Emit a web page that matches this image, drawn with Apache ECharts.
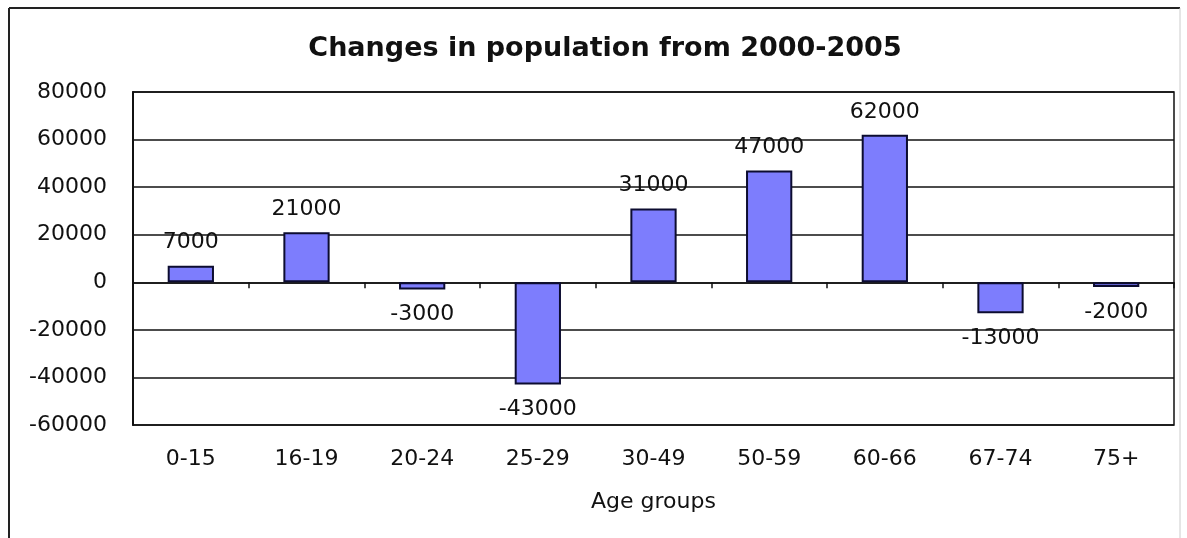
<!DOCTYPE html>
<html>
<head>
<meta charset="utf-8">
<script src="https://cdn.jsdelivr.net/npm/echarts@6/dist/echarts.min.js"></script>
<style>
  html, body { margin: 0; padding: 0; background: #fff; }
  #chart { width: 1187px; height: 538px; }
</style>
</head>
<body>
<div id="chart"></div>
<script>
// age groups and population change
const ageGroups = ['0-15', '16-19', '20-24', '25-29', '30-49', '50-59', '60-66', '67-74', '75+'];
const changes = [7000, 21000, -3000, -43000, 31000, 47000, 62000, -13000, -2000];
const yTicks = { min: -60000, max: 80000, step: 20000 };

const font = 'DejaVu Sans';

const barData = changes.map(v => ({
    value: v,
    label: { position: v < 0 ? 'bottom' : 'top', distance: v < 0 ? 14 : 12 }
}));

const chart = echarts.init(document.getElementById('chart'));
chart.setOption({
    backgroundColor: '#fff',
    animation: false,
    title: {
        text: 'Changes in population from 2000-2005',
        left: 600,
        textAlign: 'center',
        top: 30,
        textStyle: { fontFamily: font, fontWeight: 'bold', fontSize: 27, color: '#111' }
    },
    graphic: [
        { type: 'line', shape: { x1: 9, y1: 8, x2: 1180, y2: 8 }, style: { stroke: '#222', lineWidth: 2 } },
        { type: 'line', shape: { x1: 9, y1: 8, x2: 9, y2: 538 }, style: { stroke: '#222', lineWidth: 2 } },
        { type: 'line', shape: { x1: 1180, y1: 8, x2: 1180, y2: 538 }, style: { stroke: '#ccc', lineWidth: 1 } }
    ],
    grid: {
        left: 133, top: 92, right: 13, bottom: 113,
        show: true, borderColor: '#111', borderWidth: 1.5, backgroundColor: '#fff'
    },
    xAxis: [
        {
            type: 'category',
            data: ageGroups,
            position: 'bottom',
            axisLine: { show: false, onZero: false },
            axisTick: { show: false },
            axisLabel: { fontFamily: font, fontSize: 22, color: '#111', margin: 23 },
            name: 'Age groups',
            nameLocation: 'middle',
            nameGap: 66,
            nameTextStyle: { fontFamily: font, fontSize: 22, color: '#111' }
        },
        {
            type: 'category',
            data: ageGroups,
            position: 'bottom',
            axisLine: { show: true, onZero: true, lineStyle: { color: '#111', width: 1.5 } },
            axisTick: { show: true, length: 6, lineStyle: { color: '#111', width: 1.5 } },
            axisLabel: { show: false }
        }
    ],
    yAxis: {
        type: 'value',
        min: yTicks.min,
        max: yTicks.max,
        interval: yTicks.step,
        axisLine: { show: true, lineStyle: { color: '#111', width: 2 } },
        axisTick: { show: false },
        axisLabel: { fontFamily: font, fontSize: 22, color: '#111', margin: 26, formatter: v => String(v) },
        splitLine: { show: true, lineStyle: { color: '#111', width: 1.5 } }
    },
    series: [{
        type: 'bar',
        xAxisIndex: 0,
        data: barData,
        barWidth: '40%',
        itemStyle: { color: '#7d7dfd', borderColor: '#0c0c30', borderWidth: 2 },
        label: {
            show: true,
            fontFamily: font,
            fontSize: 22,
            color: '#111'
        }
    }]
});
</script>
</body>
</html>
